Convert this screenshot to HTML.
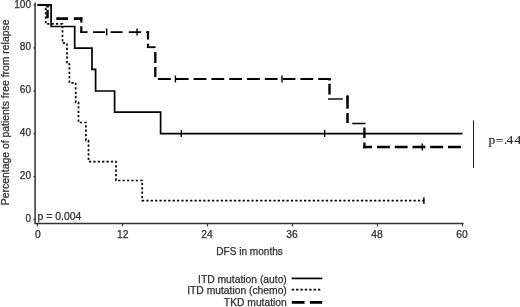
<!DOCTYPE html>
<html lang="en"><head><meta charset="utf-8"><title>DFS by mutation type</title>
<style>html,body{margin:0;padding:0;background:#fff;}body{width:520px;height:307px;overflow:hidden;}svg{display:block;}text{font-family:"Liberation Sans", Arial, sans-serif;fill:#2a2a2a;stroke:#333;stroke-width:0.25px;}</style>
</head><body>
<svg width="520" height="307" viewBox="0 0 520 307">
<rect width="520" height="307" fill="#fff"/>
<g stroke="#333" fill="none" stroke-width="1.5">
<path d="M35.1 2.5V223.6H463.6"/>
</g>
<g stroke="#333" fill="none" stroke-width="1.2">
<path d="M33.4 219.60H35.1"/>
<path d="M33.4 176.68H35.1"/>
<path d="M33.4 133.76H35.1"/>
<path d="M33.4 90.84H35.1"/>
<path d="M33.4 47.92H35.1"/>
<path d="M33.4 5.00H35.1"/>
<path d="M37.50 223.6V226.4"/>
<path d="M122.50 223.6V226.4"/>
<path d="M207.50 223.6V226.4"/>
<path d="M292.50 223.6V226.4"/>
<path d="M377.50 223.6V226.4"/>
<path d="M462.50 223.6V226.4"/>
</g>
<g font-size="10.1" text-anchor="end">
<text x="31.1" y="222.10">0</text>
<text x="31.1" y="179.18">20</text>
<text x="31.1" y="136.26">40</text>
<text x="31.1" y="93.34">60</text>
<text x="31.1" y="50.42">80</text>
<text x="31.1" y="7.50">100</text>
</g>
<g font-size="10.3" text-anchor="middle">
<text x="37.80" y="237.7">0</text>
<text x="122.80" y="237.7">12</text>
<text x="206.90" y="237.7">24</text>
<text x="291.90" y="237.7">36</text>
<text x="376.90" y="237.7">48</text>
<text x="461.90" y="237.7">60</text>
</g>
<text font-size="10.2" x="216.3" y="254.6" textLength="66.5" lengthAdjust="spacingAndGlyphs">DFS in months</text>
<text font-size="10.3" transform="translate(8.7 205.2) rotate(-90)" textLength="185.7" lengthAdjust="spacingAndGlyphs">Percentage of patients free from relapse</text>
<text font-size="10.4" x="37.6" y="219.6" textLength="43.7" lengthAdjust="spacingAndGlyphs">p = 0.004</text>
<g font-size="10.3" text-anchor="end">
<text x="286.8" y="282.5">ITD mutation (auto)</text>
<text x="286.8" y="293.7">ITD mutation (chemo)</text>
<text x="286.8" y="306">TKD mutation</text>
</g>
<g stroke="#000" fill="none">
<path d="M291.6 278.4H322.3" stroke-width="1.7"/>
<path d="M291.7 289.6H320.3" stroke-width="1.8" stroke-dasharray="2.4 1.96"/>
<path d="M291.8 302.4H304.6M309.9 302.4H322.2" stroke-width="2.6"/>
</g>
<path d="M473.5 120.5V168" stroke="#222" stroke-width="1.05" fill="none"/>
<text transform="translate(488.5 144) scale(1.13 1)" x="0 6.4 13.7 15.9 23.1" dy="0 1.3 -1.3 0 0" font-size="12" style="font-family:'Liberation Serif', 'Times New Roman', serif;fill:#1a1a1a;stroke:#1a1a1a;stroke-width:0.1">p=.44</text>
<g stroke="#000" fill="none" stroke-linejoin="miter">
<path d="M37.5 5.0 L51.1 5.0 L51.1 26.5 L74.7 26.5 L74.7 48.1 L92.0 48.1 L92.0 69.4 L95.6 69.4 L95.6 91.0 L114.6 91.0 L114.6 112.2 L160.6 112.2 L160.6 133.6 L462.5 133.6" stroke-width="1.7"/>
<path d="M181.3 130V137M324.7 130V137" stroke-width="1.3"/>
<path d="M424.3 200.6 L142.2 200.6 L142.2 180.5 L116.0 180.5 L116.0 161.6 L88.5 161.6 L88.5 140.5 L85.9 140.5 L85.9 122.5 L78.5 122.5 L78.5 102.5 L75.7 102.5 L75.7 82.8 L69.4 82.8 L69.4 64.0 L67.0 64.0 L67.0 43.2 L62.5 43.2 L62.5 23.8 L45.7 23.8 L45.7 5.0 L37.5 5.0" stroke-width="1.7" stroke-dasharray="2.25 2.13" stroke-dashoffset="0.2"/>
<path d="M423.9 197.3V204" stroke-width="1.4"/>
<path d="M37.5 5.0H52.0" stroke-width="2.1"/>
<path d="M56.3 18.6H68.0M73.8 18.6H82.4" stroke-width="2.6"/>
<path d="M80.2 32.2H87.5M93.0 32.2H105.0M110.6 32.2H122.5M128.8 32.2H141.2M146.2 32.2H149.1" stroke-width="1.8"/>
<path d="M146.9 47.2H155.6" stroke-width="1.8"/>
<path d="M158.0 79.0H170.8M175.8 79.0H188.6M193.6 79.0H206.4M211.4 79.0H224.2M229.2 79.0H242.0M247.0 79.0H259.8M264.8 79.0H277.6M282.6 79.0H295.4M300.4 79.0H313.2M318.2 79.0H330.7" stroke-width="1.8"/>
<path d="M328.0 99.0H342.8" stroke-width="1.4"/>
<path d="M352.2 123.5H365.5" stroke-width="1.5"/>
<path d="M363.3 147.0H372.0M377.0 147.0H389.9M394.8 147.0H407.6M412.5 147.0H425.4M430.2 147.0H443.1M448.0 147.0H460.9" stroke-width="2.5"/>
<path d="M47.5 5.0V7.6M47.5 9.8V18.3" stroke-width="2.5"/>
<path d="M81.3 17.3V22.5M81.3 26.3V33.1" stroke-width="2.2"/>
<path d="M148.0 31.3V39.4M148.0 43.8V48.1" stroke-width="2.2"/>
<path d="M155.3 52.0V63.0M155.3 67.0V77.0" stroke-width="2.3"/>
<path d="M329.5 78.1V80.6M329.5 83.8V94.4" stroke-width="2.4"/>
<path d="M347.5 95.6V108.8M347.5 113.0V123.0" stroke-width="2.5"/>
<path d="M364.4 127.5V138.0M364.4 142.5V148.2" stroke-width="2.3"/>
<path d="M106.7 28.6V35.6M137.1 28.6V35.6M175.4 75.5V82.5M282 75.5V82.5M347.5 95.5V102.5M422.3 143.6V150.4" stroke-width="1.4"/>
</g>
</svg>
</body></html>
